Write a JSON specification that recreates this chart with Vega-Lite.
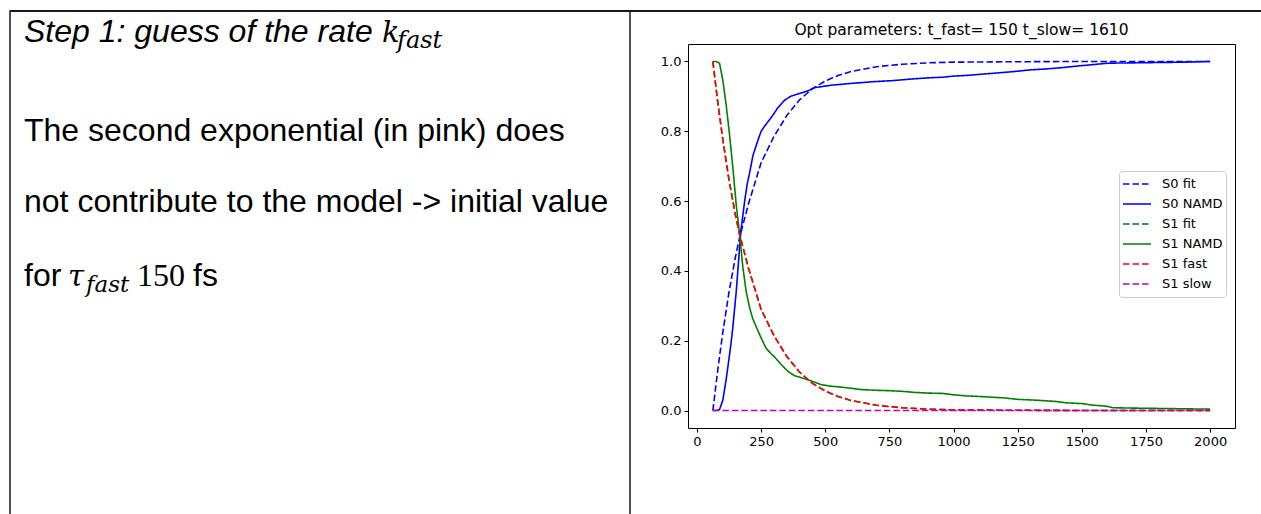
{
  "$schema": "https://vega.github.io/schema/vega-lite/v6.json",
  "background": "white",
  "padding": {"left": 9, "top": 9, "right": 0, "bottom": 0},
  "bounds": "flush",
  "spacing": 0,
  "config": {
    "font": "DejaVu Sans",
    "axis": {"grid": false, "domain": false, "tickColor": "#000", "tickSize": 4, "tickWidth": 1, "labelFont": "DejaVu Sans", "labelFontSize": 13, "labelColor": "#000", "labelPadding": 3, "title": null}
  },
  "vconcat": [
    {
      "width": 1252,
      "height": 1,
      "view": {"stroke": "#1a1a1a", "strokeWidth": 1},
      "data": {"values": []},
      "mark": {"type": "text"},
      "encoding": {}
    },
    {
      "bounds": "flush",
      "spacing": 58,
      "hconcat": [
        {
          "width": 620,
          "height": 505,
          "view": {"stroke": "#1a1a1a", "strokeWidth": 1.5},
          "data": {"values": [
            {"seg": "a", "text": "Step 1: guess of the rate"},
            {"seg": "b", "text": "k"},
            {"seg": "c", "text": "fast"},
            {"seg": "d", "text": "The second exponential (in pink) does"},
            {"seg": "e", "text": "not contribute to the model -> initial value"},
            {"seg": "f", "text": "for"},
            {"seg": "g", "text": "τ"},
            {"seg": "h", "text": "fast"},
            {"seg": "i", "text": "150"},
            {"seg": "j", "text": "fs"}
          ]},
          "layer": [
            {"transform": [{"filter": "datum.seg === 'a'"}], "mark": {"type": "text", "align": "left", "baseline": "alphabetic", "font": "Liberation Sans", "fontStyle": "italic", "fontSize": 32, "color": "#000", "dx": -296, "dy": -221.5}, "encoding": {"text": {"field": "text"}}},
            {"transform": [{"filter": "datum.seg === 'b'"}], "mark": {"type": "text", "align": "left", "baseline": "alphabetic", "font": "DejaVu Serif", "fontStyle": "italic", "fontSize": 29, "color": "#000", "dx": 62, "dy": -221.5}, "encoding": {"text": {"field": "text"}}},
            {"transform": [{"filter": "datum.seg === 'c'"}], "mark": {"type": "text", "align": "left", "baseline": "alphabetic", "font": "DejaVu Serif", "fontStyle": "italic", "fontSize": 24, "color": "#000", "dx": 77, "dy": -215.5}, "encoding": {"text": {"field": "text"}}},
            {"transform": [{"filter": "datum.seg === 'd'"}], "mark": {"type": "text", "align": "left", "baseline": "alphabetic", "font": "Liberation Sans", "fontSize": 32, "color": "#000", "dx": -296, "dy": -122.5}, "encoding": {"text": {"field": "text"}}},
            {"transform": [{"filter": "datum.seg === 'e'"}], "mark": {"type": "text", "align": "left", "baseline": "alphabetic", "font": "Liberation Sans", "fontSize": 32, "color": "#000", "dx": -296, "dy": -51.5}, "encoding": {"text": {"field": "text"}}},
            {"transform": [{"filter": "datum.seg === 'f'"}], "mark": {"type": "text", "align": "left", "baseline": "alphabetic", "font": "Liberation Sans", "fontSize": 32, "color": "#000", "dx": -296, "dy": 22.5}, "encoding": {"text": {"field": "text"}}},
            {"transform": [{"filter": "datum.seg === 'g'"}], "mark": {"type": "text", "align": "left", "baseline": "alphabetic", "font": "DejaVu Serif", "fontStyle": "italic", "fontSize": 29, "color": "#000", "dx": -252, "dy": 22.5}, "encoding": {"text": {"field": "text"}}},
            {"transform": [{"filter": "datum.seg === 'h'"}], "mark": {"type": "text", "align": "left", "baseline": "alphabetic", "font": "DejaVu Serif", "fontStyle": "italic", "fontSize": 23, "color": "#000", "dx": -234, "dy": 28.5}, "encoding": {"text": {"field": "text"}}},
            {"transform": [{"filter": "datum.seg === 'i'"}], "mark": {"type": "text", "align": "left", "baseline": "alphabetic", "font": "Liberation Serif", "fontSize": 32, "color": "#000", "dx": -183, "dy": 22.5}, "encoding": {"text": {"field": "text"}}},
            {"transform": [{"filter": "datum.seg === 'j'"}], "mark": {"type": "text", "align": "left", "baseline": "alphabetic", "font": "Liberation Sans", "fontSize": 32, "color": "#000", "dx": -127, "dy": 22.5}, "encoding": {"text": {"field": "text"}}}
          ]
        },
        {
          "bounds": "flush",
          "spacing": 0,
          "vconcat": [
            {
              "width": 547,
              "height": 33,
              "view": {"stroke": null},
              "data": {"values": []},
              "mark": {"type": "text"},
              "encoding": {}
            },
            {
              "width": 547,
              "height": 384,
              "view": {"stroke": "#000", "strokeWidth": 1},
              "title": {"text": "Opt parameters: t_fast= 150 t_slow= 1610", "font": "DejaVu Sans", "fontSize": 15.5, "fontWeight": "normal", "color": "#000", "offset": 6, "anchor": "middle"},
              "data": {"values": [
                {"s": "S0 fit", "t": 62, "v": 0},
                {"s": "S0 fit", "t": 80, "v": 0.11},
                {"s": "S0 fit", "t": 100, "v": 0.22},
                {"s": "S0 fit", "t": 125, "v": 0.34},
                {"s": "S0 fit", "t": 150, "v": 0.44},
                {"s": "S0 fit", "t": 166, "v": 0.495},
                {"s": "S0 fit", "t": 200, "v": 0.59},
                {"s": "S0 fit", "t": 250, "v": 0.71},
                {"s": "S0 fit", "t": 300, "v": 0.785},
                {"s": "S0 fit", "t": 350, "v": 0.845},
                {"s": "S0 fit", "t": 400, "v": 0.89},
                {"s": "S0 fit", "t": 450, "v": 0.922},
                {"s": "S0 fit", "t": 500, "v": 0.944},
                {"s": "S0 fit", "t": 550, "v": 0.96},
                {"s": "S0 fit", "t": 600, "v": 0.971},
                {"s": "S0 fit", "t": 700, "v": 0.985},
                {"s": "S0 fit", "t": 800, "v": 0.992},
                {"s": "S0 fit", "t": 900, "v": 0.996},
                {"s": "S0 fit", "t": 1000, "v": 0.998},
                {"s": "S0 fit", "t": 1200, "v": 0.999},
                {"s": "S0 fit", "t": 1500, "v": 1.0},
                {"s": "S0 fit", "t": 2000, "v": 1.0},
                {"s": "S0 NAMD", "t": 62, "v": 0},
                {"s": "S0 NAMD", "t": 75, "v": 0},
                {"s": "S0 NAMD", "t": 88, "v": 0.003},
                {"s": "S0 NAMD", "t": 101, "v": 0.03},
                {"s": "S0 NAMD", "t": 114, "v": 0.09},
                {"s": "S0 NAMD", "t": 127, "v": 0.16},
                {"s": "S0 NAMD", "t": 134, "v": 0.2},
                {"s": "S0 NAMD", "t": 140, "v": 0.24},
                {"s": "S0 NAMD", "t": 153, "v": 0.34},
                {"s": "S0 NAMD", "t": 166, "v": 0.465},
                {"s": "S0 NAMD", "t": 172, "v": 0.52},
                {"s": "S0 NAMD", "t": 186, "v": 0.6},
                {"s": "S0 NAMD", "t": 196, "v": 0.65},
                {"s": "S0 NAMD", "t": 205, "v": 0.68},
                {"s": "S0 NAMD", "t": 218, "v": 0.73},
                {"s": "S0 NAMD", "t": 238, "v": 0.775},
                {"s": "S0 NAMD", "t": 250, "v": 0.8},
                {"s": "S0 NAMD", "t": 264, "v": 0.815},
                {"s": "S0 NAMD", "t": 290, "v": 0.84},
                {"s": "S0 NAMD", "t": 316, "v": 0.868},
                {"s": "S0 NAMD", "t": 340, "v": 0.888},
                {"s": "S0 NAMD", "t": 365, "v": 0.9},
                {"s": "S0 NAMD", "t": 394, "v": 0.907},
                {"s": "S0 NAMD", "t": 430, "v": 0.915},
                {"s": "S0 NAMD", "t": 459, "v": 0.925},
                {"s": "S0 NAMD", "t": 524, "v": 0.932},
                {"s": "S0 NAMD", "t": 600, "v": 0.937},
                {"s": "S0 NAMD", "t": 685, "v": 0.942},
                {"s": "S0 NAMD", "t": 760, "v": 0.945},
                {"s": "S0 NAMD", "t": 842, "v": 0.95},
                {"s": "S0 NAMD", "t": 900, "v": 0.953},
                {"s": "S0 NAMD", "t": 960, "v": 0.955},
                {"s": "S0 NAMD", "t": 999, "v": 0.958},
                {"s": "S0 NAMD", "t": 1050, "v": 0.96},
                {"s": "S0 NAMD", "t": 1100, "v": 0.963},
                {"s": "S0 NAMD", "t": 1170, "v": 0.967},
                {"s": "S0 NAMD", "t": 1234, "v": 0.971},
                {"s": "S0 NAMD", "t": 1300, "v": 0.976},
                {"s": "S0 NAMD", "t": 1350, "v": 0.978},
                {"s": "S0 NAMD", "t": 1420, "v": 0.982},
                {"s": "S0 NAMD", "t": 1470, "v": 0.986},
                {"s": "S0 NAMD", "t": 1530, "v": 0.99},
                {"s": "S0 NAMD", "t": 1600, "v": 0.995},
                {"s": "S0 NAMD", "t": 1700, "v": 0.996},
                {"s": "S0 NAMD", "t": 1800, "v": 0.997},
                {"s": "S0 NAMD", "t": 1900, "v": 0.998},
                {"s": "S0 NAMD", "t": 2000, "v": 1.0},
                {"s": "S1 fit", "t": 62, "v": 1.0},
                {"s": "S1 fit", "t": 80, "v": 0.89},
                {"s": "S1 fit", "t": 100, "v": 0.78},
                {"s": "S1 fit", "t": 125, "v": 0.66},
                {"s": "S1 fit", "t": 150, "v": 0.56},
                {"s": "S1 fit", "t": 166, "v": 0.505},
                {"s": "S1 fit", "t": 200, "v": 0.41},
                {"s": "S1 fit", "t": 250, "v": 0.29},
                {"s": "S1 fit", "t": 300, "v": 0.215},
                {"s": "S1 fit", "t": 350, "v": 0.155},
                {"s": "S1 fit", "t": 400, "v": 0.11},
                {"s": "S1 fit", "t": 450, "v": 0.078},
                {"s": "S1 fit", "t": 500, "v": 0.056},
                {"s": "S1 fit", "t": 550, "v": 0.04},
                {"s": "S1 fit", "t": 600, "v": 0.029},
                {"s": "S1 fit", "t": 700, "v": 0.015},
                {"s": "S1 fit", "t": 800, "v": 0.008},
                {"s": "S1 fit", "t": 900, "v": 0.004},
                {"s": "S1 fit", "t": 1000, "v": 0.002},
                {"s": "S1 fit", "t": 1200, "v": 0.001},
                {"s": "S1 fit", "t": 1500, "v": 0.0002},
                {"s": "S1 fit", "t": 2000, "v": 0},
                {"s": "S1 NAMD", "t": 62, "v": 1.0},
                {"s": "S1 NAMD", "t": 75, "v": 1.0},
                {"s": "S1 NAMD", "t": 88, "v": 0.995},
                {"s": "S1 NAMD", "t": 101, "v": 0.945},
                {"s": "S1 NAMD", "t": 114, "v": 0.875},
                {"s": "S1 NAMD", "t": 127, "v": 0.79},
                {"s": "S1 NAMD", "t": 140, "v": 0.695},
                {"s": "S1 NAMD", "t": 153, "v": 0.59},
                {"s": "S1 NAMD", "t": 166, "v": 0.505},
                {"s": "S1 NAMD", "t": 179, "v": 0.41},
                {"s": "S1 NAMD", "t": 192, "v": 0.34},
                {"s": "S1 NAMD", "t": 205, "v": 0.295},
                {"s": "S1 NAMD", "t": 218, "v": 0.262},
                {"s": "S1 NAMD", "t": 238, "v": 0.228},
                {"s": "S1 NAMD", "t": 255, "v": 0.2},
                {"s": "S1 NAMD", "t": 270, "v": 0.178},
                {"s": "S1 NAMD", "t": 290, "v": 0.162},
                {"s": "S1 NAMD", "t": 303, "v": 0.153},
                {"s": "S1 NAMD", "t": 329, "v": 0.131},
                {"s": "S1 NAMD", "t": 355, "v": 0.112},
                {"s": "S1 NAMD", "t": 380, "v": 0.1},
                {"s": "S1 NAMD", "t": 394, "v": 0.097},
                {"s": "S1 NAMD", "t": 433, "v": 0.088},
                {"s": "S1 NAMD", "t": 460, "v": 0.081},
                {"s": "S1 NAMD", "t": 485, "v": 0.074},
                {"s": "S1 NAMD", "t": 520, "v": 0.07},
                {"s": "S1 NAMD", "t": 563, "v": 0.067},
                {"s": "S1 NAMD", "t": 641, "v": 0.06},
                {"s": "S1 NAMD", "t": 700, "v": 0.058},
                {"s": "S1 NAMD", "t": 748, "v": 0.057},
                {"s": "S1 NAMD", "t": 800, "v": 0.055},
                {"s": "S1 NAMD", "t": 848, "v": 0.052},
                {"s": "S1 NAMD", "t": 900, "v": 0.05},
                {"s": "S1 NAMD", "t": 960, "v": 0.049},
                {"s": "S1 NAMD", "t": 1000, "v": 0.045},
                {"s": "S1 NAMD", "t": 1050, "v": 0.042},
                {"s": "S1 NAMD", "t": 1108, "v": 0.04},
                {"s": "S1 NAMD", "t": 1200, "v": 0.036},
                {"s": "S1 NAMD", "t": 1250, "v": 0.032},
                {"s": "S1 NAMD", "t": 1313, "v": 0.03},
                {"s": "S1 NAMD", "t": 1400, "v": 0.026},
                {"s": "S1 NAMD", "t": 1440, "v": 0.022},
                {"s": "S1 NAMD", "t": 1500, "v": 0.02},
                {"s": "S1 NAMD", "t": 1537, "v": 0.016},
                {"s": "S1 NAMD", "t": 1600, "v": 0.012},
                {"s": "S1 NAMD", "t": 1620, "v": 0.008},
                {"s": "S1 NAMD", "t": 1700, "v": 0.007},
                {"s": "S1 NAMD", "t": 1800, "v": 0.006},
                {"s": "S1 NAMD", "t": 1900, "v": 0.005},
                {"s": "S1 NAMD", "t": 2000, "v": 0.004},
                {"s": "S1 fast", "t": 62, "v": 1.0},
                {"s": "S1 fast", "t": 80, "v": 0.89},
                {"s": "S1 fast", "t": 100, "v": 0.78},
                {"s": "S1 fast", "t": 125, "v": 0.66},
                {"s": "S1 fast", "t": 150, "v": 0.56},
                {"s": "S1 fast", "t": 166, "v": 0.505},
                {"s": "S1 fast", "t": 200, "v": 0.41},
                {"s": "S1 fast", "t": 250, "v": 0.29},
                {"s": "S1 fast", "t": 300, "v": 0.215},
                {"s": "S1 fast", "t": 350, "v": 0.155},
                {"s": "S1 fast", "t": 400, "v": 0.11},
                {"s": "S1 fast", "t": 450, "v": 0.078},
                {"s": "S1 fast", "t": 500, "v": 0.056},
                {"s": "S1 fast", "t": 550, "v": 0.04},
                {"s": "S1 fast", "t": 600, "v": 0.029},
                {"s": "S1 fast", "t": 700, "v": 0.015},
                {"s": "S1 fast", "t": 800, "v": 0.008},
                {"s": "S1 fast", "t": 900, "v": 0.004},
                {"s": "S1 fast", "t": 1000, "v": 0.002},
                {"s": "S1 fast", "t": 1200, "v": 0.001},
                {"s": "S1 fast", "t": 1500, "v": 0.0002},
                {"s": "S1 fast", "t": 2000, "v": 0},
                {"s": "S1 slow", "t": 62, "v": 0},
                {"s": "S1 slow", "t": 500, "v": 0},
                {"s": "S1 slow", "t": 1000, "v": 0},
                {"s": "S1 slow", "t": 1500, "v": 0},
                {"s": "S1 slow", "t": 2000, "v": 0}
              ]},
              "mark": {"type": "line", "strokeWidth": 1.6, "clip": true},
              "encoding": {
                "x": {"field": "t", "type": "quantitative", "scale": {"domain": [-34.9, 2096.9], "nice": false, "zero": false}, "axis": {"values": [0, 250, 500, 750, 1000, 1250, 1500, 1750, 2000], "format": "d", "labelOverlap": false, "labelFlush": false}},
                "y": {"field": "v", "type": "quantitative", "scale": {"domain": [-0.05, 1.05], "nice": false, "zero": false}, "axis": {"values": [0, 0.2, 0.4, 0.6, 0.8, 1.0], "format": ".1f", "labelOverlap": false, "labelFlush": false}},
                "color": {
                  "field": "s", "type": "nominal",
                  "scale": {"domain": ["S0 fit", "S0 NAMD", "S1 fit", "S1 NAMD", "S1 fast", "S1 slow"], "range": ["#0000ff", "#0000ff", "#008000", "#008000", "#ff0000", "#bf00bf"]},
                  "legend": {"title": null, "orient": "none", "legendX": 1109, "legendY": 161, "symbolType": "stroke", "symbolSize": 784, "symbolStrokeWidth": 1.6, "labelFont": "DejaVu Sans", "labelFontSize": 13, "labelColor": "#000", "labelOffset": 10, "clipHeight": 20, "rowPadding": 0, "padding": 3, "fillColor": "#ffffff", "strokeColor": "#cccccc", "cornerRadius": 3}
                },
                "strokeDash": {
                  "field": "s", "type": "nominal",
                  "scale": {"domain": ["S0 fit", "S0 NAMD", "S1 fit", "S1 NAMD", "S1 fast", "S1 slow"], "range": [[6.5, 3], [1, 0], [6.5, 3], [1, 0], [6.5, 3], [6.5, 3]]},
                  "legend": {"title": null, "orient": "none", "legendX": 1109, "legendY": 161, "symbolType": "stroke", "symbolSize": 784, "symbolStrokeWidth": 1.6, "labelFont": "DejaVu Sans", "labelFontSize": 13, "labelColor": "#000", "labelOffset": 10, "clipHeight": 20, "rowPadding": 0, "padding": 3, "fillColor": "#ffffff", "strokeColor": "#cccccc", "cornerRadius": 3}
                }
              }
            }
          ]
        }
      ]
    }
  ]
}
